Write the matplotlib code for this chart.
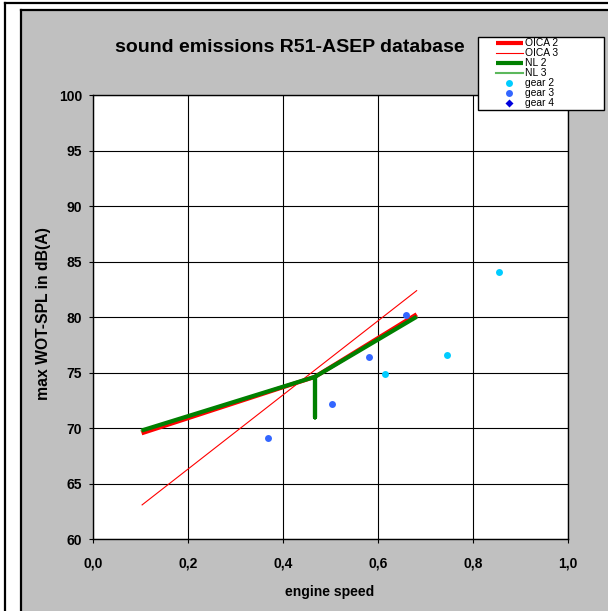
import matplotlib
matplotlib.use("Agg")
import matplotlib.pyplot as plt
from matplotlib.patches import Rectangle
from matplotlib.lines import Line2D

plt.rcParams['font.family'] = ['Liberation Sans', 'DejaVu Sans']

# Regression lines
oica2_x = [0.103, 0.468, 0.682]
oica2_y = [69.55, 74.64, 80.27]
oica3_x = [0.104, 0.682]
oica3_y = [63.1, 82.4]
nl2_x = [0.103, 0.468, 0.468, 0.468, 0.682]
nl2_y = [69.8, 74.64, 70.98, 74.64, 80.05]
nl3_x = [0.103, 0.468, 0.682]
nl3_y = [69.8, 74.64, 80.05]

# Measured points
gear2_x = [0.615, 0.746, 0.855]
gear2_y = [74.88, 76.62, 84.08]
gear3_x = [0.369, 0.504, 0.582, 0.660]
gear3_y = [69.13, 72.15, 76.44, 80.23]
gear4_x = []
gear4_y = []

xticks = [0.0, 0.2, 0.4, 0.6, 0.8, 1.0]
xticklabels = ['0,0', '0,2', '0,4', '0,6', '0,8', '1,0']
yticks = [60, 65, 70, 75, 80, 85, 90, 95, 100]

W, H = 608, 611
fig = plt.figure(figsize=(W / 100, H / 100), dpi=100)
fig.patch.set_facecolor('white')


def fx(px):
    return px / W


def fy(py):
    return 1 - py / H


# chart area background and borders
fig.add_artist(Rectangle((fx(21), 0), 1, fy(10), transform=fig.transFigure,
                         facecolor='#c0c0c0', edgecolor='none', zorder=0))
fig.add_artist(Line2D([fx(21), fx(21)], [0, fy(10)], transform=fig.transFigure,
                      color='black', lw=1.6))
fig.add_artist(Line2D([fx(21), 1], [fy(10), fy(10)], transform=fig.transFigure,
                      color='black', lw=1.6))
fig.add_artist(Line2D([fx(4.5), fx(4.5)], [0, fy(2.5)], transform=fig.transFigure,
                      color='black', lw=1.6))
fig.add_artist(Line2D([fx(4.5), 1], [fy(2.5), fy(2.5)], transform=fig.transFigure,
                      color='black', lw=1.6))

ax = fig.add_axes([fx(92.7), fy(539.3), fx(567.7 - 92.7), (539.3 - 95.3) / H])
ax.set_facecolor('white')
ax.set_xlim(0, 1)
ax.set_ylim(60, 100)
ax.set_xticks(xticks)
ax.set_xticklabels(xticklabels)
ax.set_yticks(yticks)
ax.grid(True, color='black', lw=0.8)
ax.set_axisbelow(True)
for s in ax.spines.values():
    s.set_color('black')
    s.set_linewidth(1.0)
ax.tick_params(direction='out', length=3.2, width=0.8, labelsize=10)
ax.tick_params(axis='y', pad=4.5)
ax.tick_params(axis='x', pad=9)
for lab in ax.get_xticklabels() + ax.get_yticklabels():
    lab.set_fontweight('bold')

ax.plot(nl3_x, nl3_y, color='#5cb85c', lw=1.5, label='NL 3', zorder=2)
ax.plot(oica3_x, oica3_y, color='#ff0000', lw=0.8, label='OICA 3', zorder=3)
ax.plot(oica2_x, oica2_y, color='#ff0000', lw=3.0, label='OICA 2',
        solid_capstyle='butt', zorder=4)
ax.plot(nl2_x, nl2_y, color='#008000', lw=3.0, label='NL 2',
        solid_capstyle='butt', zorder=5)
ax.plot(gear2_x, gear2_y, 'o', color='#00ccff', ms=5, mec='none', label='gear 2', zorder=6)
ax.plot(gear3_x, gear3_y, 'o', color='#3366ff', ms=5, mec='none', label='gear 3', zorder=6)
ax.plot(gear4_x, gear4_y, 'D', color='#0000dd', ms=4, mec='none', label='gear 4', zorder=6)

ax.set_xlabel('engine speed', fontsize=10, fontweight='bold')
ax.xaxis.set_label_coords(fx(330), fy(592), transform=fig.transFigure)
ax.xaxis.label.set_va('center')
ax.set_ylabel('max WOT-SPL in dB(A)', fontsize=11.3, fontweight='bold')
ax.yaxis.set_label_coords(fx(44), fy(314), transform=fig.transFigure)
ax.yaxis.label.set_va('center')

fig.text(fx(290), fy(48), 'sound emissions R51-ASEP database', ha='center', va='center',
         fontsize=14, fontweight='bold')

# legend box drawn separately so its width can be fixed
fig.add_artist(Rectangle((fx(477.5), fy(109.5)), fx(604 - 477.5), (109.5 - 37) / H,
                         transform=fig.transFigure, facecolor='white', edgecolor='black',
                         lw=1.0, zorder=10))
handles, labels = ax.get_legend_handles_labels()
order = ['OICA 2', 'OICA 3', 'NL 2', 'NL 3', 'gear 2', 'gear 3', 'gear 4']
hmap = dict(zip(labels, handles))
leg = fig.legend([hmap[k] for k in order], order, loc='upper left',
                 bbox_to_anchor=(fx(496), fy(38.5)), bbox_transform=fig.transFigure,
                 fontsize=7.4, frameon=False, borderpad=0, labelspacing=0.0,
                 handlelength=2.6, handletextpad=0.25, borderaxespad=0, numpoints=1)
leg.set_zorder(11)

fig.savefig('out.png', dpi=100)
